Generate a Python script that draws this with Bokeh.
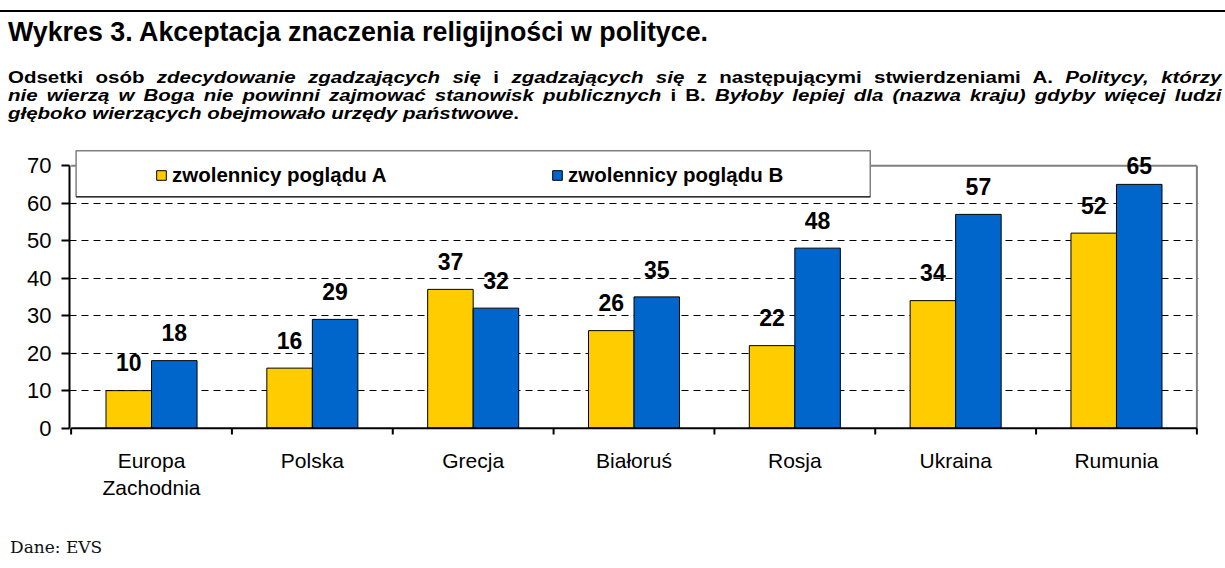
from bokeh.plotting import figure
from bokeh.models import (FactorRange, Range1d, ColumnDataSource, FixedTicker,
                          Legend, LegendItem, Div)
from bokeh.transform import dodge
from bokeh.layouts import column
from bokeh.core.properties import value
from bokeh.embed import file_html
from bokeh.resources import INLINE

# ---------------- data ----------------
countries = ["Europa\nZachodnia", "Polska", "Grecja", "Białoruś", "Rosja", "Ukraina", "Rumunia"]
view_a = [10, 16, 37, 26, 22, 34, 52]
view_b = [18, 29, 32, 35, 48, 57, 65]
series_labels = ["zwolennicy poglądu A", "zwolennicy poglądu B"]
y_ticks = [0, 10, 20, 30, 40, 50, 60, 70]
grid_ticks = [10, 20, 30, 40, 50, 60]

title_text = "Wykres 3. Akceptacja znaczenia religijności w polityce."
sub_line1 = ("Odsetki osób <i>zdecydowanie zgadzających się</i> i <i>zgadzających się</i> "
             "z następującymi stwierdzeniami A. <i>Politycy, którzy</i>")
sub_line2 = ("<i>nie wierzą w Boga nie powinni zajmować stanowisk publicznych</i> i B. "
             "<i>Byłoby lepiej dla (nazwa kraju) gdyby więcej ludzi</i>")
sub_line3 = "<i>głęboko wierzących obejmowało urzędy państwowe</i>."
source_text = "Dane: EVS"

FONT = "Liberation Sans"
YELLOW = "#FFCC00"
BLUE = "#0066CC"

# ---------------- header ----------------
SX = 1.28                      # the subtitle lettering is wide and tightly leaded
sub_w = int(round(1214 / SX))
header_html = f"""
<div style="margin-top:10px;border-top:2px solid #000;width:1225px;font-family:'Liberation Sans',Arial,sans-serif;color:#000;">
  <div style="font-weight:bold;font-size:26.8px;line-height:30px;margin-top:5px;padding-left:8px;white-space:nowrap;">{title_text}</div>
  <div style="margin-left:8px;margin-top:22px;width:{sub_w}px;font-weight:bold;font-size:16px;line-height:18px;transform:scaleX({SX});transform-origin:0 0;">
    <div style="text-align:justify;text-align-last:justify;">{sub_line1}</div>
    <div style="text-align:justify;text-align-last:justify;">{sub_line2}</div>
    <div style="text-align:left;">{sub_line3}</div>
  </div>
</div>
"""
header = Div(text=header_html, width=1225, height=148, margin=0)

footer = Div(text=f"""<div style="margin-top:17px;padding-left:10px;font-family:'DejaVu Serif',serif;
font-size:17px;line-height:20px;color:#111;white-space:nowrap;">{source_text}</div>""",
             width=1217, height=46, margin=0)

# ---------------- figure ----------------
y_max = max(y_ticks)
p = figure(x_range=FactorRange(factors=countries, range_padding=0.01, range_padding_units="absolute"),
           y_range=Range1d(-1.7, 74.3),
           width=1217, height=372, output_backend="svg", toolbar_location=None,
           min_border_left=69, min_border_right=19, min_border_top=1, min_border_bottom=86)
p.outline_line_color = None
p.background_fill_color = "white"
p.border_fill_color = "white"

src = ColumnDataSource(dict(
    cat=countries, a=view_a, b=view_b,
    a_lab=[str(v) for v in view_a], b_lab=[str(v) for v in view_b],
    # labels sit above the bars, but are kept inside the plot area (as in the original)
    a_y=[min(v + 7.4, 70.0) for v in view_a],
    b_y=[min(v + 7.4, 70.0) for v in view_b],
))

# grid
p.xgrid.visible = False
p.ygrid.ticker = FixedTicker(ticks=grid_ticks)
p.ygrid.grid_line_color = "black"
p.ygrid.grid_line_dash = "7 5"
p.ygrid.grid_line_width = 1

# plot-area border (top + right, gray)
n = len(countries)
p.segment(x0=[0, n], y0=[y_max, 0], x1=[n, n], y1=[y_max, y_max],
          line_color="#808080", line_width=2)

bar_w = 0.283
ra = p.vbar(x=dodge("cat", -bar_w / 2, range=p.x_range), top="a", width=bar_w, source=src,
            fill_color=YELLOW, line_color="black", line_width=1)
rb = p.vbar(x=dodge("cat", bar_w / 2, range=p.x_range), top="b", width=bar_w, source=src,
            fill_color=BLUE, line_color="black", line_width=1)

# x axis line + tick marks at category boundaries
p.segment(x0=[0], y0=[0], x1=[n], y1=[0], line_color="black", line_width=2)
bounds_x = list(range(n + 1))
p.segment(x0=bounds_x, y0=[0] * (n + 1), x1=bounds_x, y1=[-3] * (n + 1),
          line_color="black", line_width=2)

# value labels
for col, lab, off in (("a_y", "a_lab", -bar_w / 2), ("b_y", "b_lab", bar_w / 2)):
    p.text(x=dodge("cat", off, range=p.x_range), y=col, text=lab, source=src,
           text_font=value(FONT), text_font_style="bold", text_font_size="23px",
           text_align="center", text_baseline="alphabetic", text_color="black")

# legend frame
p.quad(left=[0.031], right=[4.969], top=[74.0], bottom=[61.73],
       fill_color="white", line_color="#808080", line_width=1.5)
p.segment(x0=[0.031], y0=[61.73], x1=[4.969], y1=[61.73], line_color="#333333", line_width=1.5)

legend = Legend(items=[LegendItem(label=series_labels[0], renderers=[ra]),
                       LegendItem(label=series_labels[1], renderers=[rb])],
                location=(86, 247), orientation="horizontal",
                glyph_width=12, glyph_height=12, label_standoff=5, label_width=379,
                spacing=0, padding=0, margin=0,
                border_line_color=None, background_fill_alpha=0,
                label_text_font=FONT, label_text_font_style="bold",
                label_text_font_size="20.5px", label_text_color="black")
p.add_layout(legend)

# y axis
p.yaxis.ticker = FixedTicker(ticks=y_ticks)
p.yaxis.bounds = (0, y_max)
p.yaxis.axis_line_width = 2
p.yaxis.axis_line_color = "black"
p.yaxis.major_tick_out = 8
p.yaxis.major_tick_in = 0
p.yaxis.major_tick_line_width = 2
p.yaxis.minor_tick_line_color = None
p.yaxis.major_label_standoff = 10
p.yaxis.major_label_text_font = FONT
p.yaxis.major_label_text_font_size = "22px"
p.yaxis.major_label_text_color = "black"

# x axis (labels only)
p.xaxis.axis_line_color = None
p.xaxis.major_tick_line_color = None
p.xaxis.minor_tick_line_color = None
p.xaxis.major_label_standoff = 8
p.xaxis.major_label_text_font = FONT
p.xaxis.major_label_text_font_size = "21px"
p.xaxis.major_label_text_color = "black"

layout = column(header, p, footer, spacing=0)
open("out.html", "w").write(file_html(layout, INLINE))
